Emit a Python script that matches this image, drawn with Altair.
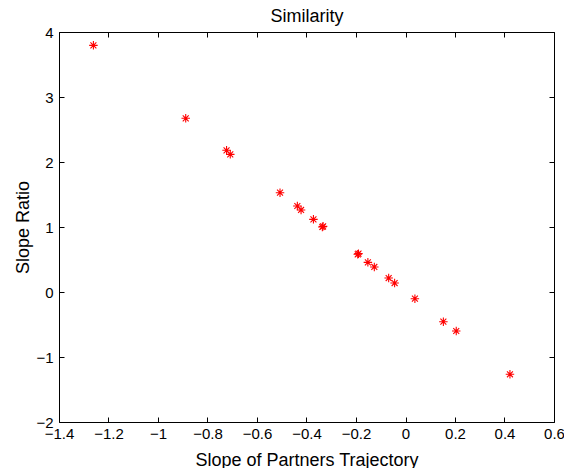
import altair as alt
import pandas as pd

# Data
slope_partners = [-1.261, -0.888, -0.723, -0.708, -0.507, -0.437, -0.422, -0.372,
                  -0.336, -0.333, -0.193, -0.190, -0.152, -0.126, -0.068, -0.044,
                  0.038, 0.153, 0.205, 0.422]
slope_ratio = [3.795, 2.672, 2.180, 2.118, 1.528, 1.323, 1.262, 1.118,
               1.000, 1.010, 0.580, 0.590, 0.456, 0.385, 0.215, 0.138,
               -0.103, -0.457, -0.600, -1.266]
x_ticks = [-1.4, -1.2, -1.0, -0.8, -0.6, -0.4, -0.2, 0.0, 0.2, 0.4, 0.6]
y_ticks = [-2, -1, 0, 1, 2, 3, 4]
chart_title = "Similarity"
x_title = "Slope of Partners Trajectory"
y_title = "Slope Ratio"

df = pd.DataFrame({"x": slope_partners, "y": slope_ratio})

FONT = "Liberation Sans"
ASTERISK = "M-1,0L1,0M0,-1L0,1M-0.7,-0.7L0.7,0.7M-0.7,0.7L0.7,-0.7"

xs = alt.Scale(domain=[-1.4, 0.6], nice=False, zero=False)
ys = alt.Scale(domain=[-2, 4], nice=False, zero=False)

common = dict(domain=False, grid=False, tickColor="black", tickSize=5,
              tickWidth=1, offset=-5, labelOverlap=False, labelFlush=False,
              labelBound=False, minExtent=0)
title_style = dict(titleFont=FONT, titleFontSize=18, titleFontWeight="normal",
                   titleColor="black", titleBaseline="alphabetic")

main = alt.Chart(df).mark_point(
    shape=ASTERISK, filled=False, color="#ff0000", strokeWidth=1.1, size=72, opacity=1
).encode(
    x=alt.X("x:Q", scale=xs, axis=alt.Axis(
        orient="bottom", values=x_ticks, format="~g",
        labelFont=FONT, labelFontSize=15, labelColor="black", labelPadding=4,
        title=x_title, titleY=48, **title_style, **common)),
    y=alt.Y("y:Q", scale=ys, axis=alt.Axis(
        orient="left", values=y_ticks, format="~g",
        labelFont=FONT, labelFontSize=15, labelColor="black", labelPadding=6,
        title=y_title, titleX=-36, titleY=195, titleAngle=-90,
        **title_style, **common)),
)

frame_ticks = alt.Chart(df).mark_point(opacity=0).encode(
    x=alt.X("x:Q", scale=xs, axis=alt.Axis(
        orient="top", values=x_ticks, labels=False,
        title=chart_title, titleY=-16, titleAngle=0, **title_style, **common)),
    y=alt.Y("y:Q", scale=ys, axis=alt.Axis(
        orient="right", values=y_ticks, labels=False, title=None, **common)),
)

chart = alt.layer(main, frame_ticks).resolve_axis(
    x="independent", y="independent"
).properties(
    width=495, height=390,
    autosize=alt.AutoSizeParams(type="none"),
    padding={"left": 51, "top": 24, "right": 10, "bottom": 46},
).configure_view(stroke="black", strokeWidth=1)

chart.save("out.html", embed_options={"renderer": "svg", "actions": False})
